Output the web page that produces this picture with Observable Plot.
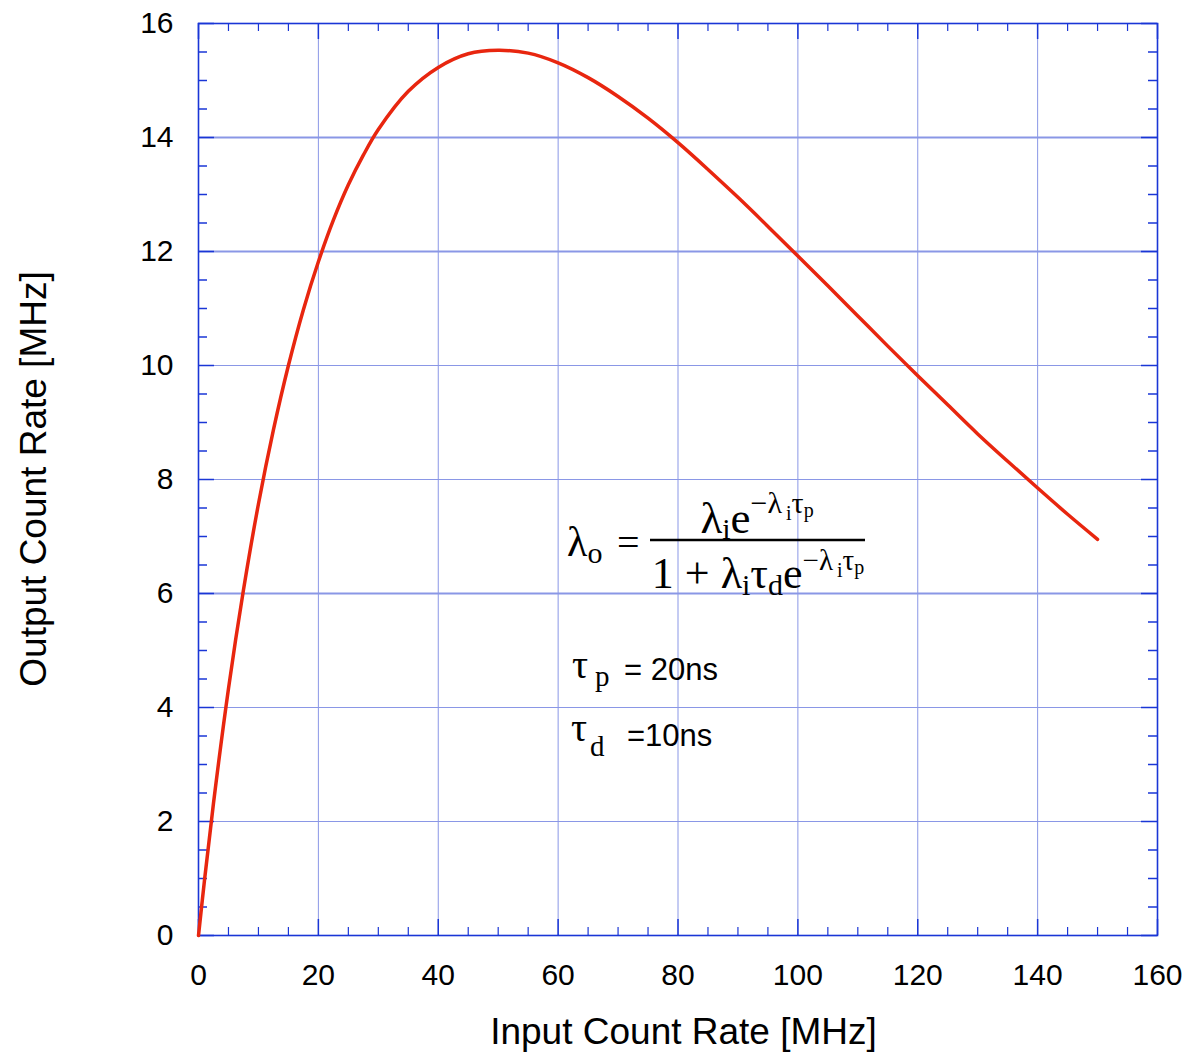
<!DOCTYPE html>
<html><head><meta charset="utf-8">
<script src="https://cdn.jsdelivr.net/npm/d3@7"></script>
<script src="https://cdn.jsdelivr.net/npm/@observablehq/plot@0.6"></script>
<style>body{margin:0;background:#fff}</style>
</head><body><div id="chart"></div>
<script>
// Data
const inputRate = [0,1,2.5,5,7.5,10,12.5,15,17.5,20,22.5,25,27.5,30,35,40,45,50,55,60,65,70,75,80,85,90,95,100,105,110,115,120,125,130,135,140,145,150];
const outputRate = [0,0.97,2.32,4.33,6.06,7.57,8.87,10.0,10.98,11.82,12.55,13.17,13.69,14.14,14.81,15.23,15.47,15.53,15.48,15.31,15.05,14.72,14.34,13.91,13.44,12.95,12.44,11.92,11.40,10.87,10.34,9.82,9.31,8.80,8.32,7.85,7.39,6.95];

const xTicks = [0,20,40,60,80,100,120,140,160];
const yTicks = [0,2,4,6,8,10,12,14,16];
const xGrid = [20,40,60,80,100,120,140];
const yGridThin = [2,4,8,10];
const yGridThick = [6,12,14];
const xMinor = [5,10,15,25,30,35,45,50,55,65,70,75,85,90,95,105,110,115,125,130,135,145,150,155];
const yMinor = [0.5,1,1.5,2.5,3,3.5,4.5,5,5.5,6.5,7,7.5,8.5,9,9.5,10.5,11,11.5,12.5,13,13.5,14.5,15,15.5];

const points = inputRate.map((x, i) => ({x, y: outputRate[i]}));

const W = 1188, H = 1055, ML = 198, MR = 31, MT = 23, MB = 120;
const PW = W - ML - MR, PH = H - MT - MB;
const blue = "#1a36d6", grid = "#8a97e6";
const sans = "'Liberation Sans', Arial, Helvetica, sans-serif";
const serif = "'Liberation Serif', 'Times New Roman', serif";

const plot = Plot.plot({
  width: W, height: H,
  marginLeft: ML, marginRight: MR, marginTop: MT, marginBottom: MB,
  style: {fontFamily: sans, fontSize: "30px", color: "#000", background: "#fff"},
  x: {domain: [0, 160]},
  y: {domain: [0, 16]},
  marks: [
    Plot.ruleX(xGrid, {x: d => d, stroke: grid, strokeWidth: 1}),
    Plot.ruleY(yGridThin, {y: d => d, stroke: grid, strokeWidth: 1}),
    Plot.ruleY(yGridThick, {y: d => d, stroke: grid, strokeWidth: 2}),
    Plot.tickY(yMinor, {y: d => d, stroke: blue, strokeWidth: 1.5, insetRight: PW - 9}),
    Plot.tickY(yMinor, {y: d => d, stroke: blue, strokeWidth: 1.5, insetLeft: PW - 9}),
    Plot.tickY(yTicks, {y: d => d, stroke: blue, strokeWidth: 1.5, insetRight: PW - 16}),
    Plot.tickY(yTicks, {y: d => d, stroke: blue, strokeWidth: 1.5, insetLeft: PW - 16}),
    Plot.tickX(xMinor, {x: d => d, stroke: blue, strokeWidth: 1.2, insetTop: PH - 8}),
    Plot.tickX(xMinor, {x: d => d, stroke: blue, strokeWidth: 1.2, insetBottom: PH - 8}),
    Plot.tickX(xTicks, {x: d => d, stroke: blue, strokeWidth: 1.5, insetTop: PH - 16}),
    Plot.tickX(xTicks, {x: d => d, stroke: blue, strokeWidth: 1.5, insetBottom: PH - 16}),
    Plot.frame({stroke: blue, strokeWidth: 1.6}),
    Plot.line(points, {x: "x", y: "y", stroke: "#e8260f", strokeWidth: 3.5, curve: "catmull-rom"}),
    Plot.axisX({ticks: xTicks, tickSize: 0, tickPadding: 28, label: null}),
    Plot.axisY({ticks: yTicks, tickSize: 0, tickPadding: 25, label: null})
  ]
});
document.getElementById("chart").appendChild(plot);

const svg = d3.select(plot);
// enforce tick label size
svg.selectAll("g[aria-label$='tick label']").attr("font-size", 30).style("font-size", "30px");

// Axis titles
svg.append("text").attr("x", ML + PW / 2 + 6).attr("y", 1044)
  .attr("text-anchor", "middle").attr("font-family", sans).attr("font-size", 37)
  .attr("fill", "#000").text("Input Count Rate [MHz]");
svg.append("text").attr("transform", "translate(46,479) rotate(-90)")
  .attr("text-anchor", "middle").attr("font-family", sans).attr("font-size", 37)
  .attr("fill", "#000").text("Output Count Rate [MHz]");

// rich text helper: parts = [text, size, baselineOffset]
function rich(x, y, anchor, parts, family) {
  const t = svg.append("text").attr("x", x).attr("y", y).attr("text-anchor", anchor)
    .attr("font-family", family).attr("fill", "#000");
  let prev = 0;
  for (const [s, size, off] of parts) {
    t.append("tspan").attr("dy", off - prev).attr("font-size", size).text(s);
    prev = off;
  }
  return t;
}
function label(x, y, s, size, family, anchor = "start") {
  return svg.append("text").attr("x", x).attr("y", y).attr("text-anchor", anchor)
    .attr("font-family", family).attr("font-size", size).attr("fill", "#000").text(s);
}

// Formula
rich(567, 556, "start", [["λ", 42, 0], ["o", 30, 7]], serif);
label(617, 556, "=", 40, serif);
svg.append("line").attr("x1", 650).attr("x2", 865).attr("y1", 540).attr("y2", 540)
  .attr("stroke", "#000").attr("stroke-width", 2.5);
rich(757, 533, "middle", [["λ", 45, 0], ["i", 30, 6], ["e", 45, 0], ["−λ", 30, -20], ["\u2009i", 20, -13], ["τ", 30, -20], ["p", 20, -16]], serif);
rich(758, 588, "middle", [["1 + λ", 44, 0], ["i", 30, 7], ["τ", 44, 0], ["d", 30, 7], ["e", 44, 0], ["−λ", 29, -18], ["\u2009i", 20, -11], ["τ", 29, -18], ["p", 20, -14]], serif);

// Parameters
label(572, 678, "τ", 40, serif);
label(595, 686, "p", 29, serif);
label(624, 680, "= 20ns", 31, sans);
label(571, 741, "τ", 40, serif);
label(590, 756, "d", 29, serif);
label(627, 746, "=10ns", 31, sans);
</script>
</body></html>
